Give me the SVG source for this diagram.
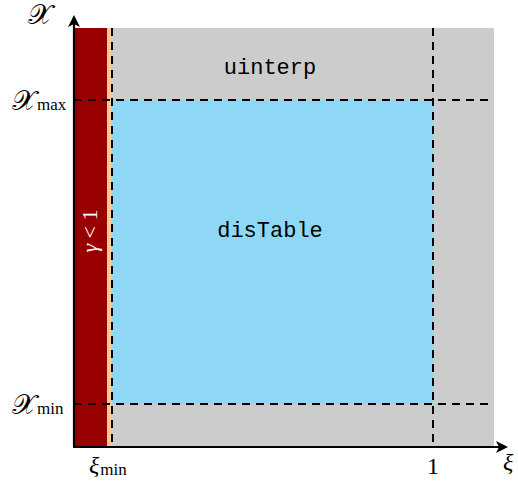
<svg xmlns="http://www.w3.org/2000/svg" width="518" height="485" viewBox="0 0 518 485">
<style>
.dash{stroke:#000;stroke-width:2;stroke-dasharray:8,6;fill:none}
.ax{stroke:#000;stroke-width:2.2;fill:none}
</style>
<defs>
<marker id="arr" markerWidth="12" markerHeight="12" refX="10" refY="6" orient="auto" markerUnits="userSpaceOnUse">
<path d="M0,0 L12,6 L0,12 L3,6 Z" fill="#000"/>
</marker>
</defs>
<g id="regions">
<rect x="74" y="28" width="420" height="418" fill="#cccccc"/>
<rect x="112" y="100" width="321" height="304" fill="#8ed8f6"/>
<rect x="74" y="28" width="33" height="418" fill="#990000"/>
<rect x="107" y="28" width="4" height="418" fill="#fccb98"/>
</g>
<g id="connectors">
<line class="dash" x1="112" y1="28" x2="112" y2="446"/>
<line class="dash" x1="433" y1="28" x2="433" y2="446"/>
<line class="dash" x1="74" y1="100" x2="494" y2="100"/>
<line class="dash" x1="74" y1="404" x2="494" y2="404"/>
<line class="ax" x1="74" y1="447" x2="74" y2="17" marker-end="url(#arr)"/>
<line class="ax" x1="73" y1="447" x2="506" y2="447" marker-end="url(#arr)"/>
</g>
<g id="labels" font-family="Liberation Serif, serif" fill="#000">
<text x="28" y="24" font-size="28">𝒳</text>
<text x="12" y="110" font-size="28">𝒳<tspan font-size="17" dx="1">max</tspan></text>
<text x="12" y="414" font-size="28">𝒳<tspan font-size="17" dx="1">min</tspan></text>
<text x="89" y="473" font-size="24" font-style="italic">ξ<tspan font-size="17" font-style="normal" dx="1" dy="2">min</tspan></text>
<text x="433" y="474" font-size="24" text-anchor="middle">1</text>
<text x="503" y="470" font-size="24" font-style="italic">ξ</text>
<text x="0" y="0" transform="translate(97,231) rotate(-90)" text-anchor="middle" fill="#fff" font-size="22"><tspan font-style="italic">γ</tspan> &lt; 1</text>
<text x="270" y="74" font-family="Liberation Mono, monospace" font-size="22" text-anchor="middle">uinterp</text>
<text x="270" y="237" font-family="Liberation Mono, monospace" font-size="22" text-anchor="middle">disTable</text>
</g>
</svg>
